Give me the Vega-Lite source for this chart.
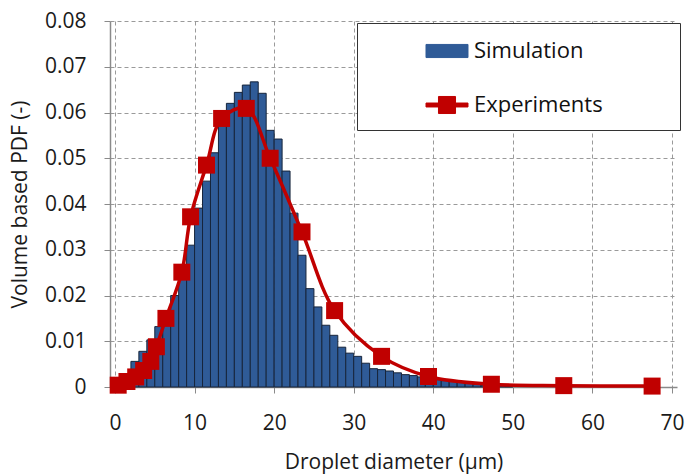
{
  "$schema": "https://vega.github.io/schema/vega-lite/v6.json",
  "width": 567,
  "height": 366,
  "autosize": "none",
  "padding": {"left": 110, "top": 21, "right": 20, "bottom": 88},
  "background": "white",
  "config": {
    "view": {"stroke": null},
    "font": "Open Sans",
    "axis": {
      "labelFont": "Open Sans",
      "titleFont": "Open Sans",
      "labelFontSize": 21,
      "titleFontSize": 21,
      "titleFontWeight": "normal",
      "labelColor": "#1a1a1a",
      "titleColor": "#1a1a1a",
      "domainColor": "#8a8a8a",
      "domainWidth": 1.5,
      "tickColor": "#8a8a8a",
      "tickSize": 6,
      "gridColor": "#9a9a9a",
      "gridDash": [4, 3],
      "gridWidth": 1
    },
    "legend": {
      "labelFont": "Open Sans",
      "labelFontSize": 22,
      "labelColor": "#111111"
    }
  },
  "datasets": {
    "sim": [
      {"d0": 0, "d1": 1, "pdf": 0.0008, "series": "Simulation"},
      {"d0": 1, "d1": 2, "pdf": 0.0025, "series": "Simulation"},
      {"d0": 2, "d1": 3, "pdf": 0.0056, "series": "Simulation"},
      {"d0": 3, "d1": 4, "pdf": 0.0078, "series": "Simulation"},
      {"d0": 4, "d1": 5, "pdf": 0.0103, "series": "Simulation"},
      {"d0": 5, "d1": 6, "pdf": 0.0132, "series": "Simulation"},
      {"d0": 6, "d1": 7, "pdf": 0.0165, "series": "Simulation"},
      {"d0": 7, "d1": 8, "pdf": 0.02, "series": "Simulation"},
      {"d0": 8, "d1": 9, "pdf": 0.025, "series": "Simulation"},
      {"d0": 9, "d1": 10, "pdf": 0.031, "series": "Simulation"},
      {"d0": 10, "d1": 11, "pdf": 0.0391, "series": "Simulation"},
      {"d0": 11, "d1": 12, "pdf": 0.045, "series": "Simulation"},
      {"d0": 12, "d1": 13, "pdf": 0.0512, "series": "Simulation"},
      {"d0": 13, "d1": 14, "pdf": 0.0578, "series": "Simulation"},
      {"d0": 14, "d1": 15, "pdf": 0.062, "series": "Simulation"},
      {"d0": 15, "d1": 16, "pdf": 0.0644, "series": "Simulation"},
      {"d0": 16, "d1": 17, "pdf": 0.066, "series": "Simulation"},
      {"d0": 17, "d1": 18, "pdf": 0.0667, "series": "Simulation"},
      {"d0": 18, "d1": 19, "pdf": 0.0642, "series": "Simulation"},
      {"d0": 19, "d1": 20, "pdf": 0.0561, "series": "Simulation"},
      {"d0": 20, "d1": 21, "pdf": 0.0542, "series": "Simulation"},
      {"d0": 21, "d1": 22, "pdf": 0.0472, "series": "Simulation"},
      {"d0": 22, "d1": 23, "pdf": 0.038, "series": "Simulation"},
      {"d0": 23, "d1": 24, "pdf": 0.0288, "series": "Simulation"},
      {"d0": 24, "d1": 25, "pdf": 0.0215, "series": "Simulation"},
      {"d0": 25, "d1": 26, "pdf": 0.0175, "series": "Simulation"},
      {"d0": 26, "d1": 27, "pdf": 0.0135, "series": "Simulation"},
      {"d0": 27, "d1": 28, "pdf": 0.0113, "series": "Simulation"},
      {"d0": 28, "d1": 29, "pdf": 0.0087, "series": "Simulation"},
      {"d0": 29, "d1": 30, "pdf": 0.0074, "series": "Simulation"},
      {"d0": 30, "d1": 31, "pdf": 0.0067, "series": "Simulation"},
      {"d0": 31, "d1": 32, "pdf": 0.0052, "series": "Simulation"},
      {"d0": 32, "d1": 33, "pdf": 0.004, "series": "Simulation"},
      {"d0": 33, "d1": 34, "pdf": 0.0038, "series": "Simulation"},
      {"d0": 34, "d1": 35, "pdf": 0.0035, "series": "Simulation"},
      {"d0": 35, "d1": 36, "pdf": 0.0031, "series": "Simulation"},
      {"d0": 36, "d1": 37, "pdf": 0.0027, "series": "Simulation"},
      {"d0": 37, "d1": 38, "pdf": 0.0025, "series": "Simulation"},
      {"d0": 38, "d1": 39, "pdf": 0.0022, "series": "Simulation"},
      {"d0": 39, "d1": 40, "pdf": 0.0019, "series": "Simulation"},
      {"d0": 40, "d1": 41, "pdf": 0.0016, "series": "Simulation"},
      {"d0": 41, "d1": 42, "pdf": 0.0014, "series": "Simulation"},
      {"d0": 42, "d1": 43, "pdf": 0.0012, "series": "Simulation"},
      {"d0": 43, "d1": 44, "pdf": 0.001, "series": "Simulation"},
      {"d0": 44, "d1": 45, "pdf": 0.0008, "series": "Simulation"},
      {"d0": 45, "d1": 46, "pdf": 0.0006, "series": "Simulation"},
      {"d0": 46, "d1": 47, "pdf": 0.0004, "series": "Simulation"},
      {"d0": 47, "d1": 48, "pdf": 0.0003, "series": "Simulation"},
      {"d0": 48, "d1": 49, "pdf": 0.0002, "series": "Simulation"},
      {"d0": 49, "d1": 50, "pdf": 0.0001, "series": "Simulation"}
    ],
    "exp": [
      {"d": 0.4, "pdf": 0.0004, "series": "Experiments"},
      {"d": 1.5, "pdf": 0.0012, "series": "Experiments"},
      {"d": 2.6, "pdf": 0.0022, "series": "Experiments"},
      {"d": 3.6, "pdf": 0.0036, "series": "Experiments"},
      {"d": 4.5, "pdf": 0.0056, "series": "Experiments"},
      {"d": 5.2, "pdf": 0.0088, "series": "Experiments"},
      {"d": 6.4, "pdf": 0.015, "series": "Experiments"},
      {"d": 8.4, "pdf": 0.0251, "series": "Experiments"},
      {"d": 9.5, "pdf": 0.0372, "series": "Experiments"},
      {"d": 11.5, "pdf": 0.0485, "series": "Experiments"},
      {"d": 13.4, "pdf": 0.0587, "series": "Experiments"},
      {"d": 16.5, "pdf": 0.0609, "series": "Experiments"},
      {"d": 19.5, "pdf": 0.05, "series": "Experiments"},
      {"d": 23.5, "pdf": 0.0339, "series": "Experiments"},
      {"d": 27.6, "pdf": 0.0167, "series": "Experiments"},
      {"d": 33.5, "pdf": 0.0067, "series": "Experiments"},
      {"d": 39.4, "pdf": 0.0023, "series": "Experiments"},
      {"d": 47.3, "pdf": 0.0006, "series": "Experiments"},
      {"d": 56.4, "pdf": 0.0003, "series": "Experiments"},
      {"d": 67.5, "pdf": 0.0002, "series": "Experiments"}
    ]
  },
  "layer": [
    {
      "data": {"name": "sim"},
      "mark": {"type": "bar", "stroke": "#17253b", "strokeWidth": 1, "orient": "vertical"},
      "encoding": {
        "x": {
          "field": "d0",
          "type": "quantitative",
          "scale": {"domain": [0, 70], "nice": false, "zero": false},
          "title": "Droplet diameter (µm)",
          "axis": {
            "values": [0, 10, 20, 30, 40, 50, 60, 70],
            "format": "d",
            "labelPadding": 19,
            "labelFlush": false,
            "titlePadding": 18,
            "grid": true
          }
        },
        "x2": {"field": "d1"},
        "y": {
          "field": "pdf",
          "type": "quantitative",
          "scale": {"domain": [0, 0.08], "nice": false},
          "title": "Volume based PDF (-)",
          "axis": {
            "values": [0, 0.01, 0.02, 0.03, 0.04, 0.05, 0.06, 0.07, 0.08],
            "labelExpr": "datum.value == 0 ? '0' : format(datum.value, '.2f')",
            "labelPadding": 18,
            "labelFlush": false,
            "titlePadding": 14,
            "grid": true
          }
        },
        "y2": {"datum": 0},
        "color": {
          "field": "series",
          "type": "nominal",
          "scale": {"domain": ["Simulation", "Experiments"], "range": ["#2F5B97", "#C00000"]},
          "legend": {
            "title": null,
            "orient": "none",
            "legendX": 247,
            "legendY": 2,
            "strokeColor": "#333333",
            "fillColor": "white",
            "padding": 14,
            "symbolOffset": 62,
            "symbolSize": 689,
            "symbolType": {"expr": "datum.value === 'Simulation' ? 'M-1.6,-0.5H1.6V0.5H-1.6Z' : 'M-1.6,-0.15H-0.65V-0.65H0.65V-0.15H1.6V0.15H0.65V0.65H-0.65V0.15H-1.6Z'"},
            "symbolStrokeColor": {"expr": "datum.value === 'Simulation' ? '#17253b' : '#C00000'"},
            "symbolStrokeWidth": 1,
            "symbolOpacity": 1,
            "labelOffset": 13,
            "labelLimit": 400,
            "rowPadding": 29,
            "labelExpr": "datum.label + '\u00a0\u00a0\u00a0\u00a0\u00a0\u00a0\u00a0\u00a0\u00a0\u00a0\u00a0\u200b'"
          }
        }
      }
    },
    {
      "data": {"name": "exp"},
      "mark": {"type": "line", "interpolate": "catmull-rom", "strokeWidth": 3.5},
      "encoding": {
        "x": {"field": "d", "type": "quantitative"},
        "y": {"field": "pdf", "type": "quantitative"},
        "color": {"field": "series", "type": "nominal", "legend": null}
      }
    },
    {
      "data": {"name": "exp"},
      "mark": {"type": "point", "shape": "square", "filled": true, "opacity": 1, "size": 289},
      "encoding": {
        "x": {"field": "d", "type": "quantitative"},
        "y": {"field": "pdf", "type": "quantitative"},
        "color": {"field": "series", "type": "nominal", "legend": null}
      }
    }
  ]
}
